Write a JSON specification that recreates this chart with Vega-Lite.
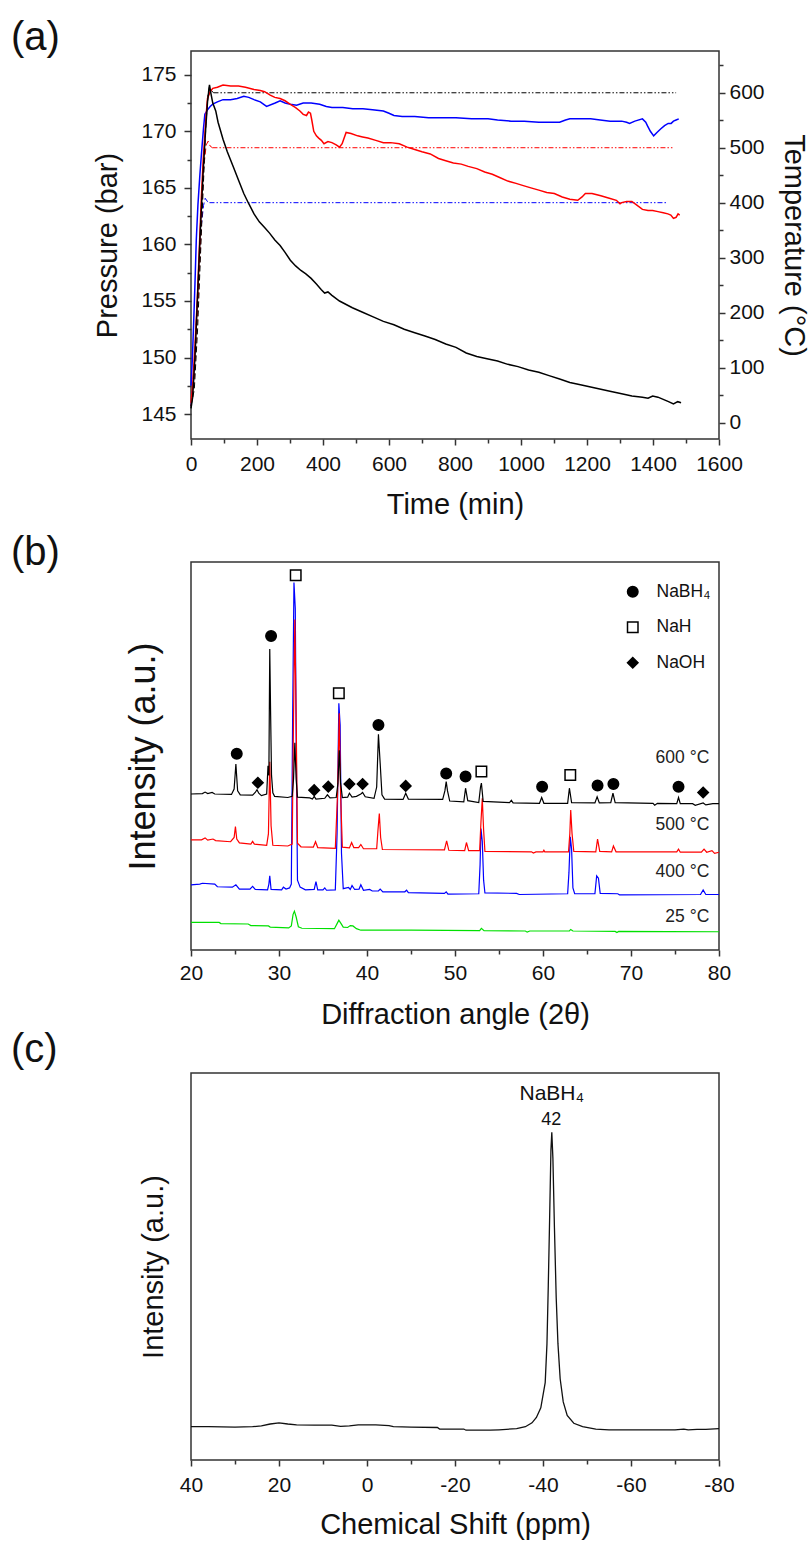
{
  "$schema": "https://vega.github.io/schema/vega-lite/v6.json",
  "background": "white",
  "padding": {"left": 10, "top": 17, "right": 2, "bottom": 2},
  "bounds": "flush",
  "spacing": 123,
  "resolve": {"scale": {"color": "independent"}},
  "config": {
    "font": "Liberation Sans",
    "view": {"stroke": "#333333", "strokeWidth": 1.5},
    "axis": {"grid": false, "domain": false, "tickColor": "#333333", "tickWidth": 1.5, "labelColor": "#111111", "titleColor": "#111111", "labelFont": "Liberation Sans", "titleFont": "Liberation Sans", "titleFontWeight": "normal", "labelFontSize": 21, "titleFontSize": 29, "labelFlush": false, "labelOverlap": false},
    "title": {"font": "Liberation Sans", "fontWeight": "normal", "fontSize": 40, "color": "#111111", "anchor": "start", "frame": "group"}
  },
  "datasets": {
    "pressure": [
      {"run":"400","t":0,"p":147.5},{"run":"400","t":4,"p":149.8},{"run":"400","t":8,"p":153},{"run":"400","t":12,"p":156.5},{"run":"400","t":16,"p":160.4},{"run":"400","t":21,"p":163.5},{"run":"400","t":27,"p":166.2},{"run":"400","t":33,"p":168.5},{"run":"400","t":38,"p":170.3},{"run":"400","t":42,"p":171.5},{"run":"400","t":50,"p":171.9},{"run":"400","t":58,"p":172.2},{"run":"400","t":66,"p":172.4},{"run":"400","t":80,"p":172.6},{"run":"400","t":97,"p":172.8},{"run":"400","t":120,"p":172.8},{"run":"400","t":140,"p":172.9},{"run":"400","t":160,"p":173.1},{"run":"400","t":175,"p":173.0},{"run":"400","t":191,"p":172.8},{"run":"400","t":210,"p":172.6},{"run":"400","t":229,"p":172.2},{"run":"400","t":255,"p":172.5},{"run":"400","t":270,"p":172.7},{"run":"400","t":285,"p":172.5},{"run":"400","t":301,"p":172.4},{"run":"400","t":320,"p":172.3},{"run":"400","t":340,"p":172.5},{"run":"400","t":364,"p":172.5},{"run":"400","t":390,"p":172.4},{"run":"400","t":410,"p":172.2},{"run":"400","t":427,"p":172.1},{"run":"400","t":460,"p":172.1},{"run":"400","t":490,"p":172.0},{"run":"400","t":521,"p":172.0},{"run":"400","t":550,"p":171.9},{"run":"400","t":583,"p":171.8},{"run":"400","t":600,"p":171.6},{"run":"400","t":615,"p":171.4},{"run":"400","t":640,"p":171.3},{"run":"400","t":678,"p":171.3},{"run":"400","t":720,"p":171.2},{"run":"400","t":760,"p":171.2},{"run":"400","t":803,"p":171.2},{"run":"400","t":850,"p":171.1},{"run":"400","t":900,"p":171.1},{"run":"400","t":929,"p":171.0},{"run":"400","t":970,"p":170.9},{"run":"400","t":1010,"p":170.9},{"run":"400","t":1054,"p":170.8},{"run":"400","t":1085,"p":170.8},{"run":"400","t":1117,"p":170.8},{"run":"400","t":1135,"p":171.0},{"run":"400","t":1148,"p":171.1},{"run":"400","t":1170,"p":171.1},{"run":"400","t":1211,"p":171.1},{"run":"400","t":1240,"p":171.0},{"run":"400","t":1270,"p":170.9},{"run":"400","t":1305,"p":170.9},{"run":"400","t":1320,"p":170.8},{"run":"400","t":1329,"p":170.7},{"run":"400","t":1345,"p":170.9},{"run":"400","t":1368,"p":171.1},{"run":"400","t":1378,"p":170.8},{"run":"400","t":1383,"p":170.5},{"run":"400","t":1392,"p":170.0},{"run":"400","t":1402,"p":169.6},{"run":"400","t":1412,"p":169.9},{"run":"400","t":1423,"p":170.2},{"run":"400","t":1435,"p":170.5},{"run":"400","t":1446,"p":170.7},{"run":"400","t":1455,"p":170.7},{"run":"400","t":1462,"p":170.9},{"run":"400","t":1470,"p":171.0},{"run":"400","t":1478,"p":171.1},
      {"run":"500","t":0,"p":146},{"run":"500","t":5,"p":147.5},{"run":"500","t":12,"p":151},{"run":"500","t":19,"p":155.1},{"run":"500","t":25,"p":159.5},{"run":"500","t":31,"p":163.9},{"run":"500","t":37,"p":167.5},{"run":"500","t":42,"p":169.7},{"run":"500","t":46,"p":171.5},{"run":"500","t":50,"p":172.9},{"run":"500","t":58,"p":173.5},{"run":"500","t":66,"p":173.8},{"run":"500","t":80,"p":173.9},{"run":"500","t":97,"p":174.1},{"run":"500","t":120,"p":174.0},{"run":"500","t":144,"p":174.0},{"run":"500","t":165,"p":173.9},{"run":"500","t":191,"p":173.7},{"run":"500","t":210,"p":173.6},{"run":"500","t":223,"p":173.5},{"run":"500","t":240,"p":173.2},{"run":"500","t":254,"p":173.0},{"run":"500","t":270,"p":172.9},{"run":"500","t":285,"p":172.7},{"run":"500","t":300,"p":172.4},{"run":"500","t":317,"p":172.1},{"run":"500","t":330,"p":171.8},{"run":"500","t":340,"p":171.5},{"run":"500","t":350,"p":171.4},{"run":"500","t":356,"p":171.7},{"run":"500","t":362,"p":171.6},{"run":"500","t":366,"p":171.0},{"run":"500","t":372,"p":170.0},{"run":"500","t":380,"p":169.6},{"run":"500","t":387,"p":169.4},{"run":"500","t":395,"p":169.2},{"run":"500","t":403,"p":168.9},{"run":"500","t":415,"p":169.1},{"run":"500","t":427,"p":169.0},{"run":"500","t":440,"p":168.8},{"run":"500","t":450,"p":168.6},{"run":"500","t":458,"p":168.9},{"run":"500","t":470,"p":169.9},{"run":"500","t":485,"p":169.8},{"run":"500","t":505,"p":169.6},{"run":"500","t":520,"p":169.5},{"run":"500","t":536,"p":169.4},{"run":"500","t":560,"p":169.2},{"run":"500","t":583,"p":169.0},{"run":"500","t":605,"p":169.0},{"run":"500","t":631,"p":168.9},{"run":"500","t":655,"p":168.6},{"run":"500","t":678,"p":168.4},{"run":"500","t":700,"p":168.2},{"run":"500","t":725,"p":168.0},{"run":"500","t":750,"p":167.6},{"run":"500","t":772,"p":167.4},{"run":"500","t":795,"p":167.2},{"run":"500","t":819,"p":167.1},{"run":"500","t":840,"p":166.9},{"run":"500","t":866,"p":166.7},{"run":"500","t":890,"p":166.4},{"run":"500","t":913,"p":166.2},{"run":"500","t":937,"p":165.9},{"run":"500","t":960,"p":165.6},{"run":"500","t":985,"p":165.4},{"run":"500","t":1007,"p":165.2},{"run":"500","t":1030,"p":165.0},{"run":"500","t":1054,"p":164.8},{"run":"500","t":1078,"p":164.6},{"run":"500","t":1101,"p":164.5},{"run":"500","t":1125,"p":164.2},{"run":"500","t":1148,"p":164.0},{"run":"500","t":1172,"p":163.9},{"run":"500","t":1185,"p":164.2},{"run":"500","t":1195,"p":164.5},{"run":"500","t":1215,"p":164.5},{"run":"500","t":1242,"p":164.3},{"run":"500","t":1265,"p":164.1},{"run":"500","t":1289,"p":163.9},{"run":"500","t":1300,"p":163.6},{"run":"500","t":1305,"p":163.7},{"run":"500","t":1320,"p":163.8},{"run":"500","t":1336,"p":163.8},{"run":"500","t":1350,"p":163.5},{"run":"500","t":1368,"p":163.1},{"run":"500","t":1385,"p":163.0},{"run":"500","t":1399,"p":163.0},{"run":"500","t":1415,"p":162.9},{"run":"500","t":1431,"p":162.8},{"run":"500","t":1445,"p":162.7},{"run":"500","t":1454,"p":162.6},{"run":"500","t":1462,"p":162.3},{"run":"500","t":1470,"p":162.4},{"run":"500","t":1476,"p":162.7},{"run":"500","t":1481,"p":162.6},
      {"run":"600","t":0,"p":145.5},{"run":"600","t":5,"p":146.5},{"run":"600","t":12,"p":150},{"run":"600","t":20,"p":155.5},{"run":"600","t":28,"p":161},{"run":"600","t":36,"p":166},{"run":"600","t":44,"p":170},{"run":"600","t":50,"p":172.6},{"run":"600","t":56,"p":174.1},{"run":"600","t":60,"p":173.4},{"run":"600","t":66,"p":172.5},{"run":"600","t":75,"p":171.8},{"run":"600","t":82,"p":170.8},{"run":"600","t":90,"p":170},{"run":"600","t":97,"p":169.3},{"run":"600","t":110,"p":168.2},{"run":"600","t":129,"p":166.8},{"run":"600","t":145,"p":165.6},{"run":"600","t":160,"p":164.5},{"run":"600","t":175,"p":163.6},{"run":"600","t":191,"p":162.7},{"run":"600","t":207,"p":162},{"run":"600","t":223,"p":161.5},{"run":"600","t":238,"p":161},{"run":"600","t":254,"p":160.4},{"run":"600","t":270,"p":159.9},{"run":"600","t":285,"p":159.3},{"run":"600","t":301,"p":158.6},{"run":"600","t":317,"p":158.1},{"run":"600","t":333,"p":157.7},{"run":"600","t":348,"p":157.4},{"run":"600","t":364,"p":157.0},{"run":"600","t":380,"p":156.5},{"run":"600","t":395,"p":156.0},{"run":"600","t":405,"p":155.7},{"run":"600","t":415,"p":155.8},{"run":"600","t":427,"p":155.5},{"run":"600","t":450,"p":155},{"run":"600","t":489,"p":154.4},{"run":"600","t":520,"p":154},{"run":"600","t":552,"p":153.6},{"run":"600","t":583,"p":153.2},{"run":"600","t":615,"p":152.9},{"run":"600","t":646,"p":152.5},{"run":"600","t":678,"p":152.2},{"run":"600","t":709,"p":151.9},{"run":"600","t":740,"p":151.6},{"run":"600","t":772,"p":151.2},{"run":"600","t":803,"p":150.9},{"run":"600","t":834,"p":150.4},{"run":"600","t":866,"p":150.1},{"run":"600","t":897,"p":149.9},{"run":"600","t":929,"p":149.7},{"run":"600","t":960,"p":149.4},{"run":"600","t":991,"p":149.2},{"run":"600","t":1023,"p":148.9},{"run":"600","t":1054,"p":148.7},{"run":"600","t":1085,"p":148.4},{"run":"600","t":1117,"p":148.1},{"run":"600","t":1148,"p":147.8},{"run":"600","t":1180,"p":147.6},{"run":"600","t":1211,"p":147.4},{"run":"600","t":1242,"p":147.2},{"run":"600","t":1273,"p":147.0},{"run":"600","t":1305,"p":146.8},{"run":"600","t":1336,"p":146.6},{"run":"600","t":1368,"p":146.5},{"run":"600","t":1385,"p":146.4},{"run":"600","t":1399,"p":146.6},{"run":"600","t":1415,"p":146.5},{"run":"600","t":1431,"p":146.3},{"run":"600","t":1447,"p":146.1},{"run":"600","t":1462,"p":145.9},{"run":"600","t":1475,"p":146.1},{"run":"600","t":1485,"p":146.0}
    ],
    "temperature": [
      {"run":"400","stage":"heating","t":0,"T":30},{"run":"400","stage":"heating","t":10,"T":110},{"run":"400","stage":"heating","t":20,"T":230},{"run":"400","stage":"heating","t":29,"T":345},{"run":"400","stage":"heating","t":38,"T":395},{"run":"400","stage":"heating","t":43,"T":408},{"run":"400","stage":"heating","t":50,"T":402},{"run":"400","stage":"heating","t":56,"T":400},
      {"run":"400","stage":"holding","t":56,"T":400},{"run":"400","stage":"holding","t":1440,"T":400},
      {"run":"500","stage":"heating","t":0,"T":30},{"run":"500","stage":"heating","t":10,"T":80},{"run":"500","stage":"heating","t":20,"T":200},{"run":"500","stage":"heating","t":30,"T":340},{"run":"500","stage":"heating","t":38,"T":460},{"run":"500","stage":"heating","t":46,"T":505},{"run":"500","stage":"heating","t":52,"T":512},{"run":"500","stage":"heating","t":58,"T":503},{"run":"500","stage":"heating","t":65,"T":500},
      {"run":"500","stage":"holding","t":65,"T":500},{"run":"500","stage":"holding","t":1465,"T":500},
      {"run":"600","stage":"heating","t":0,"T":30},{"run":"600","stage":"heating","t":10,"T":60},{"run":"600","stage":"heating","t":20,"T":170},{"run":"600","stage":"heating","t":33,"T":370},{"run":"600","stage":"heating","t":45,"T":540},{"run":"600","stage":"heating","t":52,"T":600},{"run":"600","stage":"heating","t":56,"T":612},{"run":"600","stage":"heating","t":62,"T":604},{"run":"600","stage":"heating","t":68,"T":600},
      {"run":"600","stage":"holding","t":68,"T":600},{"run":"600","stage":"holding","t":1470,"T":600}
    ],
    "xrd": [
      {"sample":"25","x":20,"y":7.1},{"sample":"25","x":23.2,"y":7.1},{"sample":"25","x":23.4,"y":6.8},{"sample":"25","x":26.5,"y":6.7},{"sample":"25","x":26.8,"y":6.3},{"sample":"25","x":28.8,"y":6.2},{"sample":"25","x":29.0,"y":5.9},{"sample":"25","x":31.1,"y":5.7},{"sample":"25","x":31.4,"y":6.2},{"sample":"25","x":31.6,"y":9.2},{"sample":"25","x":31.75,"y":10.0},{"sample":"25","x":31.95,"y":8.5},{"sample":"25","x":32.2,"y":6.0},{"sample":"25","x":32.6,"y":5.6},{"sample":"25","x":36.3,"y":5.5},{"sample":"25","x":36.6,"y":6.8},{"sample":"25","x":36.8,"y":7.7},{"sample":"25","x":37.0,"y":7.0},{"sample":"25","x":37.3,"y":5.9},{"sample":"25","x":37.8,"y":5.8},{"sample":"25","x":38.1,"y":6.3},{"sample":"25","x":38.4,"y":6.2},{"sample":"25","x":38.8,"y":5.5},{"sample":"25","x":39.3,"y":5.1},{"sample":"25","x":45,"y":5.1},{"sample":"25","x":52.8,"y":5.0},{"sample":"25","x":53.0,"y":5.6},{"sample":"25","x":53.3,"y":5.0},{"sample":"25","x":58,"y":4.9},{"sample":"25","x":58.2,"y":4.6},{"sample":"25","x":58.5,"y":4.9},{"sample":"25","x":63.0,"y":4.9},{"sample":"25","x":63.15,"y":5.3},{"sample":"25","x":63.4,"y":4.9},{"sample":"25","x":68.2,"y":4.8},{"sample":"25","x":68.4,"y":4.5},{"sample":"25","x":68.6,"y":4.8},{"sample":"25","x":80,"y":4.7},
      {"sample":"400","x":20,"y":16.8},{"sample":"400","x":21,"y":17.0},{"sample":"400","x":21.3,"y":17.2},{"sample":"400","x":22.7,"y":17.0},{"sample":"400","x":23,"y":16.3},{"sample":"400","x":24.7,"y":16.2},{"sample":"400","x":25.1,"y":16.8},{"sample":"400","x":25.5,"y":15.7},{"sample":"400","x":26.7,"y":15.7},{"sample":"400","x":27.0,"y":16.4},{"sample":"400","x":27.3,"y":15.6},{"sample":"400","x":28.7,"y":15.5},{"sample":"400","x":28.85,"y":17},{"sample":"400","x":28.95,"y":19.1},{"sample":"400","x":29.1,"y":15.6},{"sample":"400","x":30.3,"y":15.5},{"sample":"400","x":30.5,"y":16.2},{"sample":"400","x":30.8,"y":15.7},{"sample":"400","x":31.2,"y":16.0},{"sample":"400","x":31.4,"y":17.0},{"sample":"400","x":31.55,"y":60},{"sample":"400","x":31.7,"y":94.7},{"sample":"400","x":31.85,"y":88},{"sample":"400","x":31.95,"y":55},{"sample":"400","x":32.1,"y":18},{"sample":"400","x":32.4,"y":16.2},{"sample":"400","x":33.0,"y":15.5},{"sample":"400","x":34.0,"y":15.6},{"sample":"400","x":34.2,"y":17.6},{"sample":"400","x":34.4,"y":15.5},{"sample":"400","x":35.0,"y":15.5},{"sample":"400","x":35.2,"y":16.0},{"sample":"400","x":35.4,"y":15.4},{"sample":"400","x":36.4,"y":15.5},{"sample":"400","x":36.6,"y":30},{"sample":"400","x":36.8,"y":63.6},{"sample":"400","x":36.95,"y":58},{"sample":"400","x":37.1,"y":25},{"sample":"400","x":37.3,"y":15.8},{"sample":"400","x":37.9,"y":16.1},{"sample":"400","x":38.1,"y":15.6},{"sample":"400","x":38.3,"y":16.6},{"sample":"400","x":38.6,"y":15.6},{"sample":"400","x":39.1,"y":15.7},{"sample":"400","x":39.3,"y":16.8},{"sample":"400","x":39.6,"y":15.4},{"sample":"400","x":40.3,"y":15.6},{"sample":"400","x":40.6,"y":15.2},{"sample":"400","x":41.3,"y":15.2},{"sample":"400","x":41.5,"y":15.7},{"sample":"400","x":41.8,"y":15.0},{"sample":"400","x":44.3,"y":15.0},{"sample":"400","x":44.5,"y":15.4},{"sample":"400","x":44.7,"y":14.8},{"sample":"400","x":48.8,"y":14.6},{"sample":"400","x":49.0,"y":15.0},{"sample":"400","x":49.2,"y":14.4},{"sample":"400","x":52.7,"y":14.5},{"sample":"400","x":52.85,"y":22},{"sample":"400","x":52.95,"y":31.3},{"sample":"400","x":53.1,"y":28},{"sample":"400","x":53.25,"y":18},{"sample":"400","x":53.4,"y":14.7},{"sample":"400","x":57.0,"y":14.6},{"sample":"400","x":57.3,"y":14.3},{"sample":"400","x":62.8,"y":14.5},{"sample":"400","x":62.95,"y":20},{"sample":"400","x":63.1,"y":29.2},{"sample":"400","x":63.25,"y":26},{"sample":"400","x":63.4,"y":16},{"sample":"400","x":63.6,"y":14.5},{"sample":"400","x":65.9,"y":14.5},{"sample":"400","x":66.1,"y":19.1},{"sample":"400","x":66.3,"y":18.5},{"sample":"400","x":66.5,"y":14.6},{"sample":"400","x":68.5,"y":14.5},{"sample":"400","x":68.7,"y":14.2},{"sample":"400","x":77.9,"y":14.3},{"sample":"400","x":78.2,"y":15.5},{"sample":"400","x":78.5,"y":14.3},{"sample":"400","x":80,"y":14.3},
      {"sample":"500","x":20,"y":28.4},{"sample":"500","x":21.2,"y":28.4},{"sample":"500","x":21.6,"y":28.9},{"sample":"500","x":21.9,"y":28.3},{"sample":"500","x":22.5,"y":28.6},{"sample":"500","x":22.8,"y":28.2},{"sample":"500","x":24.5,"y":27.9},{"sample":"500","x":24.9,"y":29},{"sample":"500","x":25.05,"y":31.8},{"sample":"500","x":25.2,"y":28.6},{"sample":"500","x":25.5,"y":27.6},{"sample":"500","x":26.8,"y":27.3},{"sample":"500","x":27.0,"y":28.0},{"sample":"500","x":27.2,"y":27.3},{"sample":"500","x":28.6,"y":27.0},{"sample":"500","x":28.8,"y":30},{"sample":"500","x":28.95,"y":48.5},{"sample":"500","x":29.1,"y":32},{"sample":"500","x":29.3,"y":27.0},{"sample":"500","x":31.0,"y":26.8},{"sample":"500","x":31.5,"y":27.3},{"sample":"500","x":31.65,"y":60},{"sample":"500","x":31.8,"y":85.2},{"sample":"500","x":31.95,"y":60},{"sample":"500","x":32.1,"y":27.5},{"sample":"500","x":32.5,"y":26.6},{"sample":"500","x":33.9,"y":26.5},{"sample":"500","x":34.15,"y":27.9},{"sample":"500","x":34.4,"y":26.4},{"sample":"500","x":36.4,"y":26.2},{"sample":"500","x":36.65,"y":40},{"sample":"500","x":36.85,"y":61.0},{"sample":"500","x":37.0,"y":40},{"sample":"500","x":37.2,"y":26.5},{"sample":"500","x":38.0,"y":26.3},{"sample":"500","x":38.25,"y":27.7},{"sample":"500","x":38.5,"y":26.4},{"sample":"500","x":39.05,"y":26.4},{"sample":"500","x":39.3,"y":27.2},{"sample":"500","x":39.6,"y":26.1},{"sample":"500","x":41.1,"y":26.1},{"sample":"500","x":41.25,"y":31},{"sample":"500","x":41.4,"y":35.2},{"sample":"500","x":41.55,"y":29},{"sample":"500","x":41.75,"y":25.9},{"sample":"500","x":48.8,"y":25.8},{"sample":"500","x":49.05,"y":28.1},{"sample":"500","x":49.3,"y":25.7},{"sample":"500","x":51.1,"y":25.6},{"sample":"500","x":51.3,"y":27.7},{"sample":"500","x":51.55,"y":25.6},{"sample":"500","x":52.8,"y":25.6},{"sample":"500","x":52.95,"y":33},{"sample":"500","x":53.1,"y":39.1},{"sample":"500","x":53.25,"y":31},{"sample":"500","x":53.4,"y":25.4},{"sample":"500","x":58.7,"y":25.3},{"sample":"500","x":58.9,"y":25.0},{"sample":"500","x":59.2,"y":25.3},{"sample":"500","x":60.0,"y":25.3},{"sample":"500","x":60.1,"y":25.7},{"sample":"500","x":60.2,"y":25.3},{"sample":"500","x":62.9,"y":25.3},{"sample":"500","x":63.05,"y":30},{"sample":"500","x":63.15,"y":36.1},{"sample":"500","x":63.3,"y":30},{"sample":"500","x":63.5,"y":25.4},{"sample":"500","x":66.0,"y":25.3},{"sample":"500","x":66.2,"y":28.6},{"sample":"500","x":66.45,"y":25.4},{"sample":"500","x":67.8,"y":25.3},{"sample":"500","x":68.0,"y":26.8},{"sample":"500","x":68.3,"y":25.3},{"sample":"500","x":75.2,"y":25.3},{"sample":"500","x":75.4,"y":26.0},{"sample":"500","x":75.6,"y":25.2},{"sample":"500","x":78.0,"y":25.2},{"sample":"500","x":78.3,"y":26.0},{"sample":"500","x":78.6,"y":25.2},{"sample":"500","x":79.2,"y":25.6},{"sample":"500","x":79.5,"y":24.9},{"sample":"500","x":80,"y":25.2},
      {"sample":"600","x":20,"y":40.2},{"sample":"600","x":21.3,"y":40.3},{"sample":"600","x":21.6,"y":40.7},{"sample":"600","x":21.9,"y":40.3},{"sample":"600","x":22.4,"y":40.6},{"sample":"600","x":22.7,"y":40.2},{"sample":"600","x":24.6,"y":40.1},{"sample":"600","x":24.9,"y":41.5},{"sample":"600","x":25.1,"y":47.9},{"sample":"600","x":25.3,"y":41},{"sample":"600","x":25.6,"y":40},{"sample":"600","x":27.0,"y":39.9},{"sample":"600","x":27.3,"y":40.6},{"sample":"600","x":27.5,"y":41.3},{"sample":"600","x":27.7,"y":40.4},{"sample":"600","x":28.0,"y":39.8},{"sample":"600","x":28.6,"y":40.2},{"sample":"600","x":28.75,"y":47.5},{"sample":"600","x":28.85,"y":45},{"sample":"600","x":28.95,"y":77.6},{"sample":"600","x":29.05,"y":60.5},{"sample":"600","x":29.15,"y":45},{"sample":"600","x":29.3,"y":40.5},{"sample":"600","x":29.5,"y":39.6},{"sample":"600","x":31.0,"y":39.3},{"sample":"600","x":31.5,"y":39.6},{"sample":"600","x":31.65,"y":44},{"sample":"600","x":31.8,"y":53.4},{"sample":"600","x":31.95,"y":44},{"sample":"600","x":32.1,"y":39.4},{"sample":"600","x":33.5,"y":39.2},{"sample":"600","x":33.8,"y":38.9},{"sample":"600","x":34.0,"y":39.6},{"sample":"600","x":34.2,"y":38.9},{"sample":"600","x":35.2,"y":39.1},{"sample":"600","x":35.5,"y":40.0},{"sample":"600","x":35.8,"y":39.2},{"sample":"600","x":36.5,"y":39.3},{"sample":"600","x":36.7,"y":43},{"sample":"600","x":36.85,"y":51.5},{"sample":"600","x":37.0,"y":43},{"sample":"600","x":37.2,"y":39.3},{"sample":"600","x":37.8,"y":39.4},{"sample":"600","x":38.0,"y":40.4},{"sample":"600","x":38.3,"y":39.4},{"sample":"600","x":38.8,"y":39.6},{"sample":"600","x":39.3,"y":40.2},{"sample":"600","x":39.5,"y":40.6},{"sample":"600","x":39.8,"y":39.5},{"sample":"600","x":40.8,"y":39.1},{"sample":"600","x":41.1,"y":42},{"sample":"600","x":41.3,"y":55.6},{"sample":"600","x":41.5,"y":48},{"sample":"600","x":41.7,"y":40},{"sample":"600","x":42.0,"y":38.9},{"sample":"600","x":44.1,"y":38.8},{"sample":"600","x":44.4,"y":40.4},{"sample":"600","x":44.7,"y":38.9},{"sample":"600","x":48.6,"y":38.8},{"sample":"600","x":48.85,"y":41},{"sample":"600","x":49.0,"y":43.4},{"sample":"600","x":49.15,"y":41},{"sample":"600","x":49.4,"y":38.4},{"sample":"600","x":51.0,"y":38.2},{"sample":"600","x":51.2,"y":41.7},{"sample":"600","x":51.45,"y":38.5},{"sample":"600","x":52.7,"y":38.0},{"sample":"600","x":52.9,"y":42.0},{"sample":"600","x":53.0,"y":43.0},{"sample":"600","x":53.2,"y":38.3},{"sample":"600","x":56.2,"y":38.0},{"sample":"600","x":56.4,"y":38.6},{"sample":"600","x":56.6,"y":37.9},{"sample":"600","x":59.6,"y":37.8},{"sample":"600","x":59.85,"y":39.3},{"sample":"600","x":60.1,"y":37.8},{"sample":"600","x":62.8,"y":37.8},{"sample":"600","x":63.0,"y":41.7},{"sample":"600","x":63.25,"y":38.0},{"sample":"600","x":65.9,"y":37.9},{"sample":"600","x":66.15,"y":39.5},{"sample":"600","x":66.4,"y":37.9},{"sample":"600","x":67.7,"y":38.0},{"sample":"600","x":67.95,"y":40.4},{"sample":"600","x":68.2,"y":38.0},{"sample":"600","x":72.5,"y":37.8},{"sample":"600","x":72.7,"y":37.3},{"sample":"600","x":73.0,"y":37.8},{"sample":"600","x":75.2,"y":37.7},{"sample":"600","x":75.4,"y":39.3},{"sample":"600","x":75.6,"y":37.7},{"sample":"600","x":77.0,"y":37.7},{"sample":"600","x":77.3,"y":37.3},{"sample":"600","x":78.2,"y":37.9},{"sample":"600","x":78.5,"y":37.4},{"sample":"600","x":79.3,"y":37.7},{"sample":"600","x":80,"y":37.7}
    ],
    "phases": [
      {"phase":"NaBH₄","x":25.2,"y":50.6},{"phase":"NaBH₄","x":29.1,"y":80.9},{"phase":"NaBH₄","x":41.3,"y":58.0},{"phase":"NaBH₄","x":49.0,"y":45.5},{"phase":"NaBH₄","x":51.2,"y":44.7},{"phase":"NaBH₄","x":59.9,"y":42.1},{"phase":"NaBH₄","x":66.2,"y":42.4},{"phase":"NaBH₄","x":68.0,"y":42.8},{"phase":"NaBH₄","x":75.4,"y":42.1},
      {"phase":"NaH","x":31.9,"y":96.6},{"phase":"NaH","x":36.8,"y":66.2},{"phase":"NaH","x":53.0,"y":46.0},{"phase":"NaH","x":63.1,"y":45.1},
      {"phase":"NaOH","x":27.6,"y":43.1},{"phase":"NaOH","x":34.0,"y":41.2},{"phase":"NaOH","x":35.6,"y":42.1},{"phase":"NaOH","x":38.0,"y":42.8},{"phase":"NaOH","x":39.5,"y":42.8},{"phase":"NaOH","x":44.4,"y":42.3},{"phase":"NaOH","x":78.2,"y":40.6}
    ],
    "xrdlabels": [
      {"x":78.9,"y":49.4,"label":"600 °C"},{"x":78.9,"y":32.2,"label":"500 °C"},{"x":78.9,"y":20.2,"label":"400 °C"},{"x":78.9,"y":8.6,"label":"25 °C"}
    ],
    "nmr": [
      {"d":40,"v":8.6},{"d":36,"v":8.6},{"d":30,"v":8.5},{"d":26,"v":8.6},{"d":24,"v":8.8},{"d":22,"v":9.3},{"d":20,"v":9.6},{"d":18,"v":9.3},{"d":16,"v":9.1},{"d":12,"v":9.0},{"d":8,"v":9.0},{"d":6,"v":8.7},{"d":4,"v":8.8},{"d":2,"v":9.1},{"d":-2,"v":9.1},{"d":-5,"v":8.9},{"d":-6,"v":8.6},{"d":-10,"v":8.5},{"d":-16,"v":8.4},{"d":-16.5,"v":8.0},{"d":-22,"v":8.0},{"d":-22.5,"v":7.7},{"d":-28,"v":7.7},{"d":-30,"v":7.8},{"d":-34,"v":8.1},{"d":-36,"v":8.6},{"d":-37.5,"v":9.6},{"d":-38.5,"v":11.0},{"d":-39.5,"v":13.5},{"d":-40.5,"v":20},{"d":-40.9,"v":30},{"d":-41.2,"v":45},{"d":-41.5,"v":62},{"d":-41.8,"v":80},{"d":-42.0,"v":84.7},{"d":-42.25,"v":78},{"d":-42.6,"v":60},{"d":-43.0,"v":42},{"d":-43.4,"v":30},{"d":-43.9,"v":21},{"d":-44.6,"v":15},{"d":-45.5,"v":11.5},{"d":-47,"v":9.5},{"d":-49,"v":8.6},{"d":-52,"v":8.0},{"d":-55,"v":7.8},{"d":-60,"v":7.8},{"d":-70,"v":7.8},{"d":-72,"v":8.0},{"d":-73,"v":7.8},{"d":-75,"v":7.9},{"d":-77,"v":7.9},{"d":-80,"v":8.1}
    ],
    "nmrlabels": [
      {"d":-42.0,"v":94.6,"label":"NaBH₄"},{"d":-41.9,"v":87.9,"label":"42"}
    ]
  },
  "vconcat": [
    {
      "width": 528,
      "height": 388,
      "title": {"text": "(a)", "dx": -180, "offset": -7},
      "encoding": {
        "x": {"field": "t", "type": "quantitative", "scale": {"domain": [0, 1600], "nice": false},
          "axis": {"title": "Time (min)", "format": "d", "values": [0,100,200,300,400,500,600,700,800,900,1000,1100,1200,1300,1400,1500,1600],
            "labelExpr": "datum.value % 200 === 0 ? datum.label : ''",
            "tickSize": {"condition": {"test": "datum.value % 200 === 0", "value": 6}, "value": 4},
            "labelPadding": 8, "titlePadding": 16}}
      },
      "layer": [
        {
          "data": {"name": "temperature"},
          "mark": {"type": "line", "strokeWidth": 1},
          "encoding": {
            "y": {"field": "T", "type": "quantitative", "scale": {"domain": [-30, 676], "nice": false, "zero": false},
              "axis": {"orient": "right", "title": "Temperature (°C)", "values": [0,50,100,150,200,250,300,350,400,450,500,550,600,650],
                "labelExpr": "datum.value % 100 === 0 ? datum.label : ''",
                "tickSize": {"condition": {"test": "datum.value % 100 === 0", "value": 6}, "value": 4},
                "labelPadding": 4, "titlePadding": 14}},
            "color": {"field": "run", "type": "nominal", "scale": {"domain": ["400","500","600"], "range": ["#0000ff","#ff0000","#000000"]}, "legend": null},
            "strokeDash": {"field": "stage", "type": "nominal", "scale": {"domain": ["heating","holding"], "range": [[6,3],[5,2,1.5,2,1.5,2]]}, "legend": null}
          }
        },
        {
          "data": {"name": "pressure"},
          "mark": {"type": "line", "strokeWidth": 1.5},
          "encoding": {
            "y": {"field": "p", "type": "quantitative", "scale": {"domain": [142.8, 177.1], "nice": false, "zero": false},
              "axis": {"orient": "left", "title": "Pressure (bar)", "values": [145,147.5,150,152.5,155,157.5,160,162.5,165,167.5,170,172.5,175],
                "labelExpr": "datum.value % 5 === 0 ? datum.label : ''",
                "tickSize": {"condition": {"test": "datum.value % 5 === 0", "value": 7}, "value": 4},
                "labelPadding": 8, "titlePadding": 18}},
            "color": {"field": "run", "type": "nominal", "scale": {"domain": ["400","500","600"], "range": ["#0000ff","#ff0000","#000000"]}, "legend": null}
          }
        }
      ],
      "resolve": {"scale": {"y": "independent"}}
    },
    {
      "width": 528,
      "height": 388,
      "title": {"text": "(b)", "dx": -180, "offset": -11},
      "encoding": {
        "x": {"field": "x", "type": "quantitative", "scale": {"domain": [20, 80], "nice": false},
          "axis": {"title": "Diffraction angle (2θ)", "values": [20,25,30,35,40,45,50,55,60,65,70,75,80],
            "labelExpr": "datum.value % 10 === 0 ? datum.label : ''",
            "tickSize": {"condition": {"test": "datum.value % 10 === 0", "value": 6}, "value": 4},
            "labelPadding": 6, "titlePadding": 17}},
        "y": {"field": "y", "type": "quantitative", "scale": {"domain": [0, 100], "nice": false},
          "axis": {"title": "Intensity (a.u.)", "ticks": false, "labels": false, "titleFontSize": 36, "titlePadding": 29}}
      },
      "layer": [
        {
          "data": {"name": "xrd"},
          "mark": {"type": "line", "strokeWidth": 1.2},
          "encoding": {
            "color": {"field": "sample", "type": "nominal", "scale": {"domain": ["25","400","500","600"], "range": ["#00e000","#0000ff","#ff0000","#000000"]}, "legend": null}
          }
        },
        {
          "data": {"name": "phases"},
          "mark": {"type": "point", "filled": true, "stroke": "#000000", "strokeWidth": 1.5, "size": 110, "opacity": 1},
          "encoding": {
            "shape": {"field": "phase", "type": "nominal", "scale": {"domain": ["NaBH₄","NaH","NaOH"], "range": ["circle","square","diamond"]},
              "legend": {"orient": "none", "legendX": 433, "legendY": 532, "title": null, "labelFontSize": 17.5, "labelFont": "Liberation Sans", "labelColor": "#111111", "rowPadding": 16.5, "labelOffset": 15, "symbolSize": 110, "symbolStrokeWidth": 1.5}},
            "fill": {"field": "phase", "type": "nominal", "scale": {"domain": ["NaBH₄","NaH","NaOH"], "range": ["#000000","#ffffff","#000000"]},
              "legend": {"orient": "none", "legendX": 433, "legendY": 532, "title": null, "labelFontSize": 17.5, "labelFont": "Liberation Sans", "labelColor": "#111111", "rowPadding": 16.5, "labelOffset": 15, "symbolSize": 110, "symbolStrokeWidth": 1.5}}
          }
        },
        {
          "data": {"name": "xrdlabels"},
          "mark": {"type": "text", "align": "right", "baseline": "middle", "fontSize": 17.5, "color": "#222222"},
          "encoding": {"text": {"field": "label"}}
        }
      ]
    },
    {
      "width": 528,
      "height": 387,
      "title": {"text": "(c)", "dx": -180, "offset": 3},
      "encoding": {
        "x": {"field": "d", "type": "quantitative", "scale": {"domain": [-80, 40], "reverse": true, "nice": false},
          "axis": {"title": "Chemical Shift (ppm)", "values": [40,30,20,10,0,-10,-20,-30,-40,-50,-60,-70,-80],
            "labelExpr": "datum.value % 20 === 0 ? '' + datum.value : ''",
            "tickSize": {"condition": {"test": "datum.value % 20 === 0", "value": 6}, "value": 4},
            "labelPadding": 8, "titlePadding": 15}},
        "y": {"field": "v", "type": "quantitative", "scale": {"domain": [0, 100], "nice": false},
          "axis": {"title": "Intensity (a.u.)", "ticks": false, "labels": false, "titlePadding": 23}}
      },
      "layer": [
        {
          "data": {"name": "nmr"},
          "mark": {"type": "line", "color": "#111111", "strokeWidth": 1.3}
        },
        {
          "data": {"name": "nmrlabels"},
          "transform": [{"filter": "datum.label !== '42'"}],
          "mark": {"type": "text", "align": "center", "baseline": "middle", "fontSize": 21, "color": "#111111"},
          "encoding": {"text": {"field": "label"}}
        },
        {
          "data": {"name": "nmrlabels"},
          "transform": [{"filter": "datum.label === '42'"}],
          "mark": {"type": "text", "align": "center", "baseline": "middle", "fontSize": 18, "color": "#111111"},
          "encoding": {"text": {"field": "label"}}
        }
      ]
    }
  ]
}
